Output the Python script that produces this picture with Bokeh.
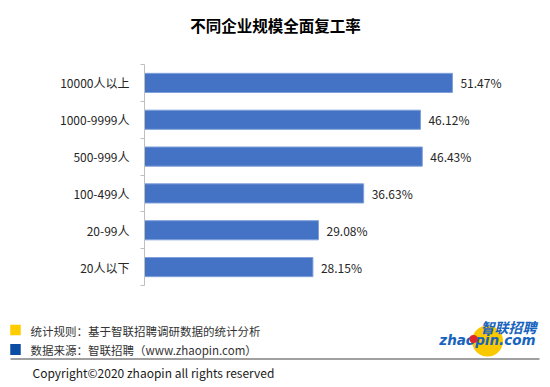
from bokeh.plotting import figure
from bokeh.layouts import column
from bokeh.models import Range1d, FixedTicker, ColumnDataSource
from bokeh.core.properties import value
from bokeh.embed import file_html
from bokeh.resources import INLINE

# ---- data ----
title_text = "不同企业规模全面复工率"
categories = ["10000人以上", "1000-9999人", "500-999人", "100-499人", "20-99人", "20人以下"]
rates = [51.47, 46.12, 46.43, 36.63, 29.08, 28.15]
note_rule = "统计规则：基于智联招聘调研数据的统计分析"
note_source = "数据来源：智联招聘（www.zhaopin.com）"
copyright_text = "Copyright©2020 zhaopin all rights reserved"

CJK = "Noto Sans CJK SC"
W = 550

def blank_fig(h, y_top, y_bottom):
    f = figure(width=W, height=h, output_backend="svg", toolbar_location=None,
               x_range=Range1d(0, W), y_range=Range1d(y_bottom, y_top),
               x_axis_type=None, y_axis_type=None, title=None,
               min_border=0, min_border_left=0, min_border_right=0,
               min_border_top=0, min_border_bottom=0, frame_align=False)
    f.grid.visible = False
    f.outline_line_color = None
    return f

# ---- title ----
pt = blank_fig(56, 0, 56)
pt.text(x=[275], y=[24.5], text=[title_text], text_font=value(CJK), text_font_size="15.5px",
        text_font_style="bold", text_color="#000000", text_align="center", text_baseline="middle")

# ---- chart ----
n = len(categories)
pos = [n - 1 - i + 0.5 for i in range(n)]
src = ColumnDataSource(dict(y=pos, v=rates, lab=[f"{r:.2f}%" for r in rates]))

p = figure(width=W, height=250, output_backend="svg", toolbar_location=None,
           x_range=Range1d(0, 60), y_range=Range1d(0, n), frame_align=False,
           min_border_left=144, min_border_right=47, min_border_top=8, min_border_bottom=21)
p.hbar(y="y", right="v", left=0, height=0.52, source=src,
       fill_color="#4472C4", line_color="#7FA0DA", line_width=1)
p.text(x="v", y="y", text="lab", source=src, x_offset=8, text_font=value(CJK),
       text_font_size="12px", text_color="#262626", text_baseline="middle", text_align="left")
p.xaxis.visible = False
p.grid.visible = False
p.outline_line_color = None
ya = p.yaxis[0]
ya.ticker = FixedTicker(ticks=pos, minor_ticks=list(range(n + 1)))
ya.major_label_overrides = {pv: c for pv, c in zip(pos, categories)}
ya.major_tick_line_color = None
ya.major_tick_out = 0
ya.minor_tick_out = 4
ya.minor_tick_in = 0
ya.minor_tick_line_color = "#BFBFBF"
ya.axis_line_color = "#BFBFBF"
ya.major_label_standoff = 11
ya.major_label_text_font = CJK
ya.major_label_text_font_size = "12px"
ya.major_label_text_color = "#262626"

# ---- footer (notes, logo, divider) ----
pf = blank_fig(56, 306, 362)
pf.rect(x=[15, 15], y=[329.5, 349], width=[10.5, 10.5], height=[10.5, 11],
        fill_color=["#FFCC00", "#0B4DA2"], line_color=None)
pf.text(x=[30, 30], y=[330, 349.5], text=[note_rule, note_source], text_font=value(CJK),
        text_font_size="11.5px", text_color="#333333", text_baseline="middle", text_align="left")
pf.quad(left=[10], right=[539], top=[357.5], bottom=[359.5], fill_color="#A0A0A0", line_color=None)
# logo
pf.ellipse(x=[487], y=[340.5], width=[31], height=[31], fill_color="#F9C800", line_color=None)
pf.text(x=[536], y=[326.5], text=["智联招聘"], text_font=value(CJK), text_font_size="14px",
        text_font_style="bold italic", text_color="#1763BE", text_align="right", text_baseline="middle")
pf.text(x=[535], y=[339.5], text=["zhaopin.com"], text_font=value("DejaVu Sans"), text_font_size="13.5px",
        text_font_style="bold italic", text_color="#1763BE", text_align="right", text_baseline="middle")
pf.scatter(x=[473], y=[338.5], size=8, fill_color="#E0262B", line_color=None)

# ---- copyright ----
pc = blank_fig(25, 362, 387)
pc.text(x=[32], y=[372], text=[copyright_text], text_font=value(CJK),
        text_font_size="12px", text_color="#1A1A1A", text_baseline="middle", text_align="left")

layout = column(pt, p, pf, pc, spacing=0)
open("out.html", "w").write(file_html(layout, INLINE))
